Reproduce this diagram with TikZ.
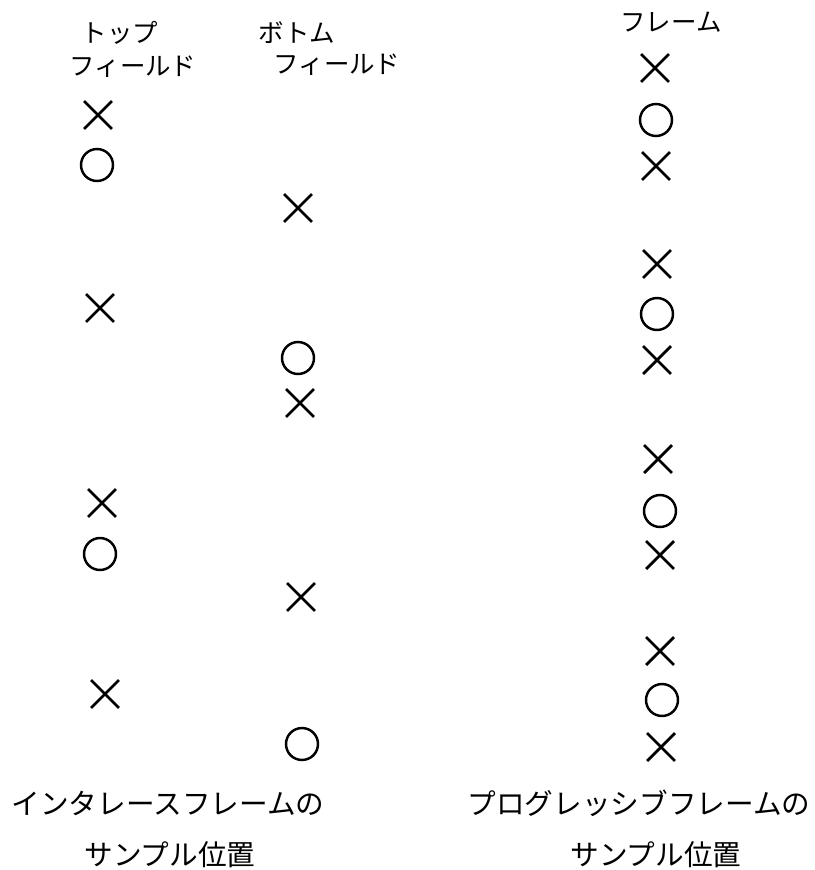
\documentclass[tikz,border=0pt]{standalone}
\usepackage{fontspec}
\usepackage{tikz}
\usetikzlibrary{shapes.misc,positioning}
\newfontfamily\jpfont{Noto Sans CJK JP}
\tikzset{
  xmark/.style={draw, cross out, line width=1.6pt, minimum size=0.5cm, inner sep=0pt},
  omark/.style={draw, circle, line width=1.4pt, minimum size=0.64cm, inner sep=0pt},
  head/.style={font=\jpfont\fontsize{14.5pt}{16pt}\selectfont, inner sep=0pt},
  capt/.style={font=\jpfont\fontsize{16.3pt}{18pt}\selectfont, inner sep=0pt}
}
\begin{document}
\begin{tikzpicture}[x=0.02cm, y=-0.02cm]
    \useasboundingbox (0,0) rectangle (815,870);
    % headers
    \node[head] (tophd1) at (120,33) {トップ};
    \node[head] (tophd2) at (133,67) {フィールド};
    \node[head] (bothd1) at (297,33) {ボトム};
    \node[head] (bothd2) at (337,65) {フィールド};
    \node[head] (frmhd) at (671,22) {フレーム};

    % top field
    \node[xmark] (t1) at (98,115) {};
    \node[omark] (t2) at (97,165) {};
    \node[xmark] (t3) at (100,308) {};
    \node[xmark] (t4) at (102,503) {};
    \node[omark] (t5) at (100,554) {};
    \node[xmark] (t6) at (105,694) {};

    % bottom field
    \node[xmark] (b1) at (298,208) {};
    \node[omark] (b2) at (298,358) {};
    \node[xmark] (b3) at (300,403) {};
    \node[xmark] (b4) at (301,597) {};
    \node[omark] (b5) at (302,744) {};

    % progressive frame
    \node[xmark] (f1) at (655,68) {};
    \node[omark] (f2) at (656,120) {};
    \node[xmark] (f3) at (656,166) {};
    \node[xmark] (f4) at (657,264) {};
    \node[omark] (f5) at (657,314) {};
    \node[xmark] (f6) at (657,360) {};
    \node[xmark] (f7) at (658,459) {};
    \node[omark] (f8) at (660,511) {};
    \node[xmark] (f9) at (660,555) {};
    \node[xmark] (f10) at (660,651) {};
    \node[omark] (f11) at (662,700) {};
    \node[xmark] (f12) at (661,747) {};

    % captions
    \node[capt] (ilcap1) at (168,803) {インタレースフレームの};
    \node[capt] (ilcap2) at (170,855) {サンプル位置};
    \node[capt] (pgcap1) at (639,803) {プログレッシブフレームの};
    \node[capt] (pgcap2) at (656,855) {サンプル位置};
\end{tikzpicture}
\end{document}
